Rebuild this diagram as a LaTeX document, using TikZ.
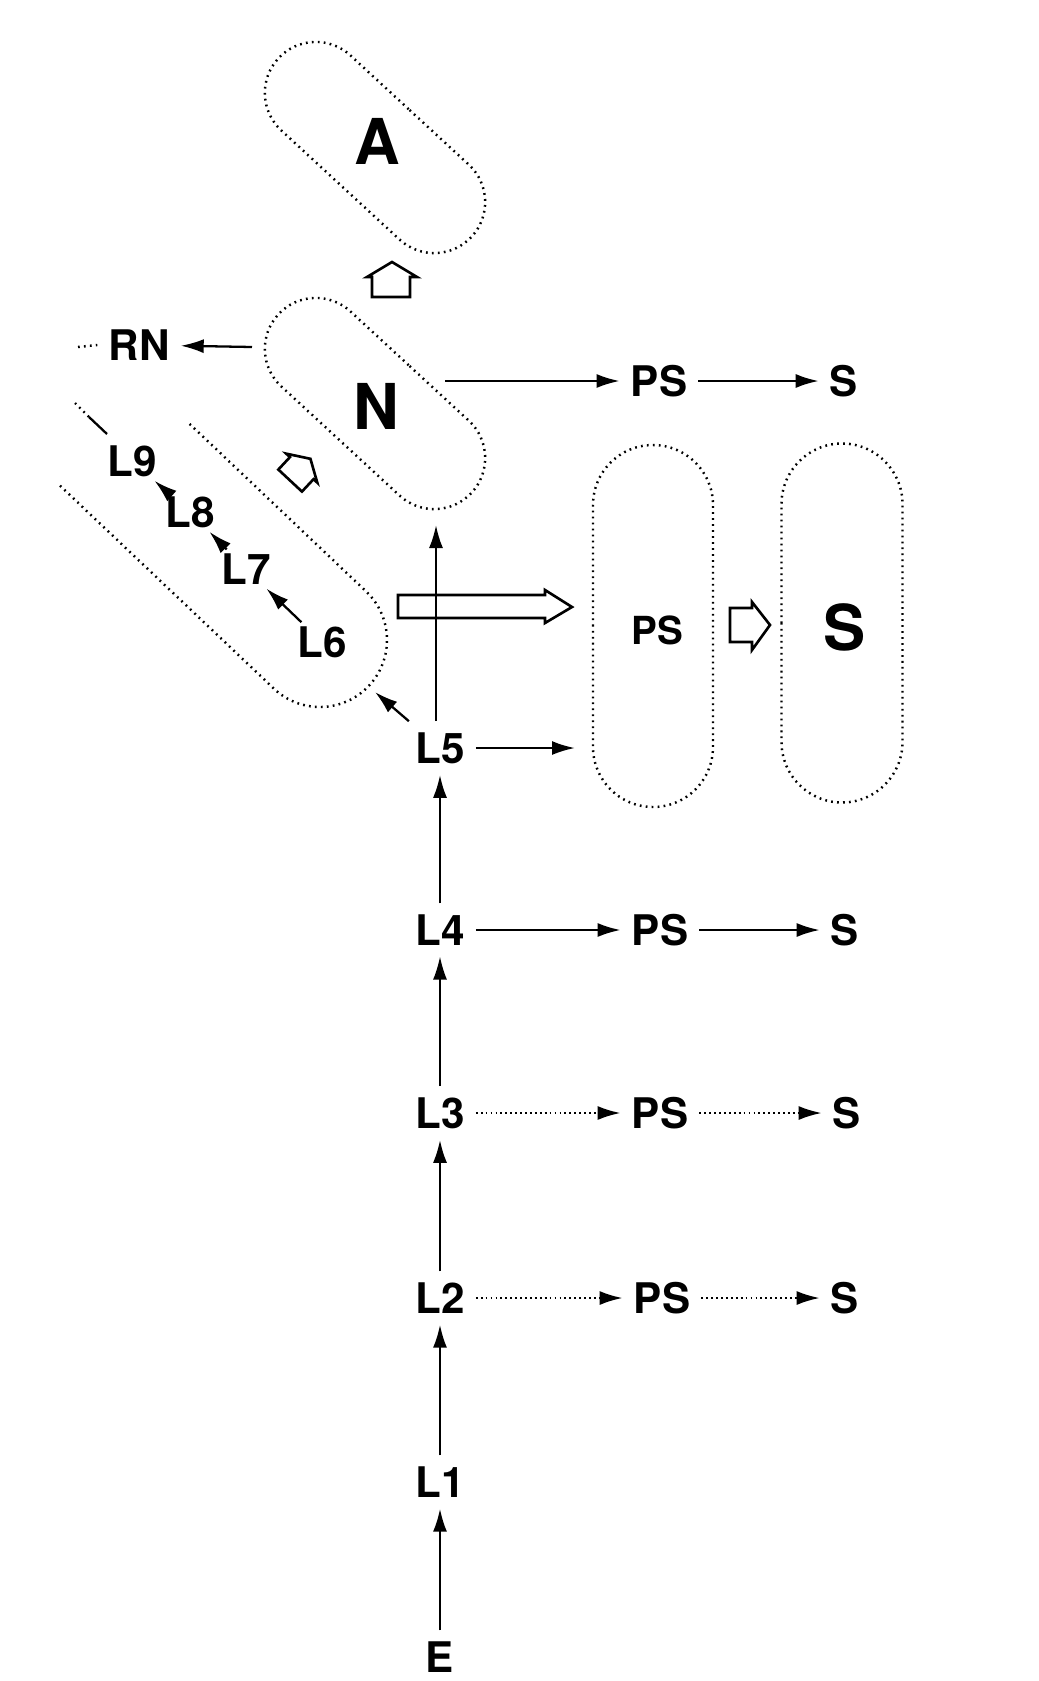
\documentclass[tikz,border=0pt]{standalone}
\usepackage{fontspec}
\setmainfont{TeX Gyre Heros}
\usetikzlibrary{arrows.meta,shapes.misc}

\tikzset{
  lab/.style={font=\fontsize{12}{14}\selectfont\bfseries, inner sep=3pt},
  tightlab/.style={lab, inner sep=1pt},
  biglab/.style={font=\fontsize{18}{20}\selectfont\bfseries, inner sep=3pt},
  caplab/.style={font=\fontsize{11}{13}\selectfont\bfseries, inner sep=3pt},
  capsule/.style={draw, rounded rectangle, inner sep=0pt, line width=0.7pt, dash pattern=on 0.5pt off 1.2pt},
  capline/.style={line width=0.7pt, dash pattern=on 0.5pt off 1.2pt},
  arr/.style={-{Latex[length=2.3mm,width=1.4mm]}, line width=0.65pt},
  dotarr/.style={arr, dash pattern=on 0.5pt off 0.9pt},
  hollow/.style={line width=0.75pt, line join=miter},
}

\begin{document}
\begin{tikzpicture}[x=0.1mm,y=-0.1mm]

\useasboundingbox (0,0) rectangle (1039,1681);

% capsules A and N
\node[capsule, minimum width=26.3mm, minimum height=10.2mm, rotate=-42.7] (capA) at (375,147.5) {};
\node[capsule, minimum width=26.3mm, minimum height=10.2mm, rotate=-42.7] (capN) at (375,403.5) {};
\node[biglab] (A) at (377,141) {A};
\node[biglab] (N) at (376,406) {N};

% up arrow N -> A
\draw[hollow] (372,297) -- (372,277) -- (367,277) -- (392,262) -- (417,277) -- (410,277) -- (410,297) -- cycle;

% open capsule L6..L9
\draw[capline] (189.6,423.9) -- (366.1,591.4) arc[start angle=-46.5, end angle=133.5, radius=67] -- (58.6,484.3);

\begin{scope}[shift={(300,470)}, rotate=-43, scale=0.85]
\draw[hollow] (-19,17) -- (-19,-3) -- (-25,-3) -- (0,-18) -- (25,-3) -- (19,-3) -- (19,17) -- cycle;
\end{scope}

\node[tightlab] (L9) at (132,461) {L9};
\node[tightlab] (L8) at (190,512) {L8};
\node[tightlab] (L7) at (246,569) {L7};
\node[tightlab] (L6) at (322,642) {L6};

\draw[arr] (L8) -- (L9);
\draw[arr] (L7) -- (L8);
\draw[arr] (L6) -- (L7);

\coordinate (l9a) at (75,403);
\coordinate (l9b) at (89,417);
\coordinate (l9c) at (107,434);
\draw[capline] (l9a) -- (l9b);
\draw[line width=0.65pt] (l9b) -- (l9c);

% RN
\node[lab] (RN) at (139,345) {RN};
\coordinate (rnstub) at (78,347);
\coordinate (Nleft) at (252,347);
\draw[capline] (rnstub) -- (RN.west);
\draw[arr] (Nleft) -- (RN);

% top row
\node[lab] (PSn) at (659,381) {PS};
\node[lab] (Sn) at (844,381) {S};
\coordinate (Nout) at (445,381);
\draw[arr] (Nout) -- (PSn);
\draw[arr] (PSn) -- (Sn);

% PS and S capsules
\node[capsule, minimum width=36.2mm, minimum height=12mm, rotate=90] (capPS) at (653,626) {};
\node[capsule, minimum width=35.9mm, minimum height=12.1mm, rotate=90] (capS) at (842,623) {};
\node[caplab] (PSc) at (657,630) {PS};
\node[biglab] (Sc) at (845,627) {S};
\draw[hollow] (730,608) -- (752,608) -- (752,602) -- (770,625) -- (752,650) -- (752,642) -- (730,642) -- cycle;

% wide arrow
\draw[hollow] (398,595) -- (545,595) -- (545,590) -- (572,607) -- (545,623) -- (545,618) -- (398,618) -- cycle;

% main column
\node[lab] (L5) at (440,748) {L5};
\node[lab] (L4) at (440,930) {L4};
\node[lab] (L3) at (440,1113) {L3};
\node[lab] (L2) at (440,1298) {L2};
\node[lab] (L1) at (440,1482) {L1};
\node[lab] (E) at (440,1657) {E};

\coordinate (Nin) at (436,525);
\coordinate (PSin) at (575,748);
\coordinate (Lcap) at (375,692);
\draw[arr] (L5.north -| Nin) -- (Nin);
\draw[arr] (L5) -- (PSin);
\draw[arr] (L5) -- (Lcap);

\draw[arr] (E) -- (L1);
\draw[arr] (L1) -- (L2);
\draw[arr] (L2) -- (L3);
\draw[arr, line width=0.45pt] (L3) -- (L4);
\draw[arr] (L4) -- (L5);

% side rows
\node[lab] (PS4) at (660,930) {PS};
\node[lab] (S4) at (845,930) {S};
\node[lab] (PS3) at (660,1113) {PS};
\node[lab] (S3) at (847,1113) {S};
\node[lab] (PS2) at (662,1298) {PS};
\node[lab] (S2) at (845,1298) {S};

\draw[arr] (L4) -- (PS4);
\draw[arr] (PS4) -- (S4);
\draw[dotarr] (L3) -- (PS3);
\draw[dotarr] (PS3) -- (S3);
\draw[dotarr] (L2) -- (PS2);
\draw[dotarr] (PS2) -- (S2);

\end{tikzpicture}
\end{document}
